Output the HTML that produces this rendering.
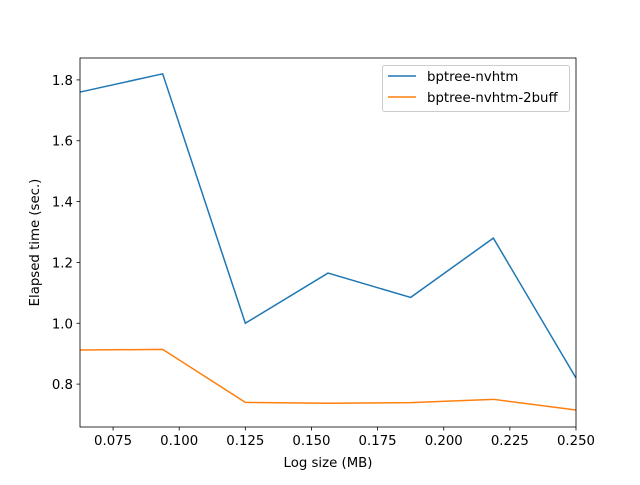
<!DOCTYPE html>
<html><head><meta charset="utf-8"><style>
body{margin:0;background:#fff;font-family:"Liberation Sans","DejaVu Sans",sans-serif;}
svg text{font-family:"DejaVu Sans","Liberation Sans",sans-serif;font-size:13.3px;fill:#000;}
</style></head><body>
<svg id="chart" width="640" height="480"></svg>
<script>
const xValues=[0.0625,0.09375,0.125,0.15625,0.1875,0.21875,0.25];
const seriesNvhtm=[1.76,1.82,1.0,1.165,1.085,1.28,0.82];
const series2buff=[0.912,0.914,0.74,0.737,0.739,0.75,0.715];
const xTicks=[0.075,0.100,0.125,0.150,0.175,0.200,0.225,0.250];
const xTickLabels=["0.075","0.100","0.125","0.150","0.175","0.200","0.225","0.250"];
const yTicks=[0.8,1.0,1.2,1.4,1.6,1.8];
const yTickLabels=["0.8","1.0","1.2","1.4","1.6","1.8"];
const L=80,R=576,T=58,B=427,x0=0.0625,x1=0.25,y0=0.659,y1=1.872;
const sx=v=>L+(v-x0)/(x1-x0)*(R-L);
const sy=v=>B-(v-y0)/(y1-y0)*(B-T);
const svg=document.getElementById('chart');
const NS='http://www.w3.org/2000/svg';
function mk(tag,attrs,parent){const e=document.createElementNS(NS,tag);for(const k in attrs)e.setAttribute(k,attrs[k]);(parent||svg).appendChild(e);return e;}
xTicks.forEach((t,i)=>{const x=sx(t);
 const l=mk('line',{x1:x,x2:x,y1:B,y2:B+3.5,stroke:'#000','stroke-width':0.8});
 
 const tx=mk('text',{x:x,y:B+18,'text-anchor':'middle'});tx.textContent=xTickLabels[i];
 });
yTicks.forEach((t,i)=>{const y=sy(t);
 const l=mk('line',{x1:L-3.5,x2:L,y1:y,y2:y,stroke:'#000','stroke-width':0.8});
 
 const tx=mk('text',{x:L-7,y:y+5,'text-anchor':'end'});tx.textContent=yTickLabels[i];
 });
function line(vals,color,name){const p=mk('polyline',{points:vals.map((v,i)=>sx(xValues[i])+','+sy(v)).join(' '),fill:'none',stroke:color,'stroke-width':1.5});
 }
line(seriesNvhtm,'#1f77b4','series-bptree-nvhtm');
line(series2buff,'#ff7f0e','series-bptree-nvhtm-2buff');
const fr=mk('rect',{x:L,y:T,width:R-L,height:B-T,fill:'none',stroke:'#000','stroke-width':0.8});

const xt=mk('text',{x:(L+R)/2,y:467,'text-anchor':'middle'});xt.textContent='Log size (MB)';

const yt=mk('text',{x:0,y:0,'text-anchor':'middle',transform:`translate(39,${(T+B)/2}) rotate(-90)`});yt.textContent='Elapsed time (sec.)';

const lg=mk('g',{});
mk('rect',{x:382.5,y:65.5,width:187,height:46,rx:2,fill:'#fff',stroke:'#ccc','stroke-width':1},lg);
[['bptree-nvhtm','#1f77b4',76],['bptree-nvhtm-2buff','#ff7f0e',97]].forEach(([n,c,y])=>{
 const e=mk('g',{},lg);
 mk('line',{x1:388,x2:416,y1:y,y2:y,stroke:c,'stroke-width':1.5},e);
 const t=mk('text',{x:427,y:y+5},e);t.textContent=n;});
</script>
</body></html>
